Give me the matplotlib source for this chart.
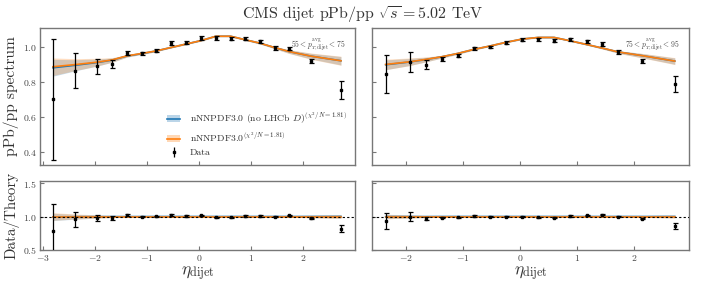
import numpy as np
import matplotlib
matplotlib.use("Agg")
import matplotlib.pyplot as plt
from matplotlib.patches import Patch
from matplotlib.lines import Line2D

plt.rcParams['font.family'] = 'serif'
plt.rcParams['font.serif'] = ['cmr10', 'DejaVu Serif']
plt.rcParams['mathtext.fontset'] = 'cm'
plt.rcParams['axes.formatter.use_mathtext'] = True
plt.rcParams['axes.unicode_minus'] = True

# ---------------- data: left panel (55 < pT < 75) ----------------
eta_L = [-2.80, -2.38, -1.95, -1.66, -1.38, -1.09, -0.82, -0.53, -0.25, 0.04,
         0.33, 0.61, 0.89, 1.18, 1.46, 1.74, 2.16, 2.73]
data_L = [0.700, 0.863, 0.888, 0.902, 0.966, 0.962, 0.977, 1.021, 1.024, 1.051,
          1.049, 1.047, 1.046, 1.030, 0.994, 0.989, 0.918, 0.752]
err_L = [0.345, 0.100, 0.044, 0.024, 0.012, 0.010, 0.009, 0.012, 0.011, 0.010,
         0.010, 0.010, 0.010, 0.011, 0.010, 0.010, 0.012, 0.050]
theo_L = [0.886, 0.898, 0.912, 0.925, 0.948, 0.962, 0.976, 0.996, 1.015, 1.035,
          1.060, 1.060, 1.040, 1.020, 0.995, 0.972, 0.946, 0.920]
band_L = [0.050, 0.034, 0.022, 0.013, 0.007, 0.005, 0.004, 0.003, 0.003, 0.003,
          0.003, 0.003, 0.004, 0.005, 0.007, 0.011, 0.018, 0.026]
theo_L_nolhcb = [0.880, 0.894, 0.910, 0.924, 0.947, 0.961, 0.976, 0.996, 1.015, 1.035,
                 1.060, 1.060, 1.040, 1.020, 0.995, 0.972, 0.946, 0.920]
band_L_nolhcb = [0.048, 0.032, 0.020, 0.012, 0.006, 0.005, 0.004, 0.003, 0.003, 0.003,
                 0.003, 0.003, 0.004, 0.005, 0.006, 0.010, 0.016, 0.024]

# ---------------- data: right panel (75 < pT < 95) ----------------
eta_R = [-2.36, -1.94, -1.65, -1.37, -1.09, -0.81, -0.53, -0.25, 0.04, 0.32,
         0.60, 0.88, 1.17, 1.45, 1.73, 2.15, 2.72]
data_R = [0.844, 0.912, 0.898, 0.928, 0.949, 0.992, 0.998, 1.023, 1.040, 1.042,
          1.034, 1.042, 1.030, 1.017, 0.970, 0.920, 0.786]
err_R = [0.108, 0.057, 0.024, 0.012, 0.009, 0.008, 0.007, 0.008, 0.008, 0.008,
         0.009, 0.008, 0.010, 0.010, 0.010, 0.012, 0.046]
theo_R = [0.899, 0.914, 0.928, 0.943, 0.962, 0.985, 1.004, 1.025, 1.044, 1.053,
          1.053, 1.034, 1.013, 0.992, 0.970, 0.949, 0.918]
band_R = [0.030, 0.022, 0.014, 0.008, 0.005, 0.004, 0.003, 0.003, 0.003, 0.003,
          0.003, 0.003, 0.004, 0.005, 0.008, 0.013, 0.020]
theo_R_nolhcb = [0.897, 0.913, 0.927, 0.943, 0.962, 0.985, 1.004, 1.025, 1.044, 1.053,
                 1.053, 1.034, 1.013, 0.992, 0.970, 0.949, 0.918]
band_R_nolhcb = [0.028, 0.020, 0.013, 0.007, 0.005, 0.004, 0.003, 0.003, 0.003, 0.003,
                 0.003, 0.003, 0.004, 0.005, 0.007, 0.012, 0.018]

pt_labels = [r"$55 < p_{T,\mathrm{dijet}}^{\mathrm{avg}} < 75$",
             r"$75 < p_{T,\mathrm{dijet}}^{\mathrm{avg}} < 95$"]
legend_labels = [r"nNNPDF3.0 (no LHCb $D$)$^{(\chi^2/N=1.81)}$",
                 r"nNNPDF3.0$^{(\chi^2/N=1.81)}$",
                 "Data"]

BLUE = '#1f77b4'
ORANGE = '#ff7f0e'
SPINE = '#777777'
TXT = '#333333'

fig = plt.figure(figsize=(7.06, 2.82), dpi=100)

W = 706.0
H = 282.0
def rect(x0, x1, y0, y1):
    return [x0 / W, 1 - y1 / H, (x1 - x0) / W, (y1 - y0) / H]

axTL = fig.add_axes(rect(40, 355, 28, 165))
axTR = fig.add_axes(rect(372, 689, 28, 165))
axBL = fig.add_axes(rect(40, 355, 181, 250))
axBR = fig.add_axes(rect(372, 689, 181, 250))

panels = [
    (axTL, axBL, eta_L, data_L, err_L, theo_L, band_L, theo_L_nolhcb, band_L_nolhcb, (-3.05, 3.0), pt_labels[0]),
    (axTR, axBR, eta_R, data_R, err_R, theo_R, band_R, theo_R_nolhcb, band_R_nolhcb, (-2.6, 2.97), pt_labels[1]),
]

for i, (axT, axB, eta, dat, err, th, bd, th2, bd2, xl, ptl) in enumerate(panels):
    eta = np.array(eta); dat = np.array(dat); err = np.array(err)
    th = np.array(th); bd = np.array(bd); th2 = np.array(th2); bd2 = np.array(bd2)

    # top panel
    axT.fill_between(eta, th2 - bd2, th2 + bd2, color=BLUE, alpha=0.25, lw=0)
    axT.plot(eta, th2, color=BLUE, lw=1.2)
    axT.fill_between(eta, th - bd, th + bd, color=ORANGE, alpha=0.25, lw=0)
    axT.plot(eta, th, color=ORANGE, lw=1.2)
    axT.errorbar(eta, dat, yerr=err, fmt='s', color='k', ms=1.8, lw=0.9,
                 capsize=1.8, capthick=0.9, zorder=5)
    axT.set_xlim(*xl)
    axT.set_ylim(0.325, 1.107)
    axT.set_yticks([0.4, 0.6, 0.8, 1.0])
    axT.set_xticks([-3, -2, -1, 0, 1, 2] if i == 0 else [-2, -1, 0, 1, 2])
    axT.tick_params(labelbottom=False)
    axT.text(0.97, 0.93, ptl, transform=axT.transAxes, ha='right', va='top',
             fontsize=5.5, color='#444444')

    # ratio panel
    axB.fill_between(eta, 1 - bd2 / th2 - (th - th2) / th, 1 + bd2 / th2 - (th - th2) / th,
                     color=BLUE, alpha=0.25, lw=0)
    axB.fill_between(eta, 1 - bd / th, 1 + bd / th, color=ORANGE, alpha=0.25, lw=0)
    axB.plot(eta, th2 / th, color=BLUE, lw=1.2)
    axB.plot(eta, th / th, color=ORANGE, lw=1.2)
    axB.axhline(1.0, color='k', ls=(0, (2, 2)), lw=0.8, zorder=4)
    axB.errorbar(eta, dat / th, yerr=err / th, fmt='s', color='k', ms=1.8, lw=0.9,
                 capsize=1.8, capthick=0.9, zorder=5)
    axB.set_xlim(*xl)
    axB.set_ylim(0.5, 1.53)
    axB.set_yticks([0.5, 1.0, 1.5])
    axB.set_xticks([-3, -2, -1, 0, 1, 2] if i == 0 else [-2, -1, 0, 1, 2])
    axB.set_xlabel(r"$\eta_{\mathrm{dijet}}$", fontsize=12.5, color=TXT, labelpad=1)

    for ax in (axT, axB):
        for s in ax.spines.values():
            s.set_color(SPINE)
            s.set_linewidth(1.0)
        ax.tick_params(direction='in', length=3, width=0.8, color=SPINE,
                       labelsize=7, labelcolor='#444444', pad=2)
        if i == 1:
            ax.tick_params(labelleft=False)

ylab1 = axTL.set_ylabel("pPb/pp spectrum", fontsize=12, color=TXT)
ylab2 = axBL.set_ylabel("Data/Theory", fontsize=12, color=TXT)
axTL.yaxis.set_label_coords(-0.066, 0.5)
axBL.yaxis.set_label_coords(-0.066, 0.5)

# size the y labels to the length seen in the reference
renderer = fig.canvas.get_renderer()
ext = ylab1.get_window_extent(renderer)
fs = ylab1.get_fontsize() * 120.0 / ext.height
ylab1.set_fontsize(fs)
ylab2.set_fontsize(fs * 0.97)

# legend
h1 = (Patch(facecolor=BLUE, alpha=0.3, lw=0), Line2D([], [], color=BLUE, lw=1.2))
h2 = (Patch(facecolor=ORANGE, alpha=0.3, lw=0), Line2D([], [], color=ORANGE, lw=1.2))
h3 = axTL.errorbar([], [], yerr=[], fmt='s', color='k', ms=1.8, lw=0.9, capsize=1.8)
leg = axTL.legend([h1, h2, h3], legend_labels, loc='lower right',
                  bbox_to_anchor=(1.0, 0.0), frameon=False, fontsize=7,
                  handlelength=1.4, handletextpad=1.0, labelspacing=0.45,
                  borderaxespad=0.4)
for t in leg.get_texts():
    t.set_color(TXT)

fig.text(0.513, 0.948, r"CMS dijet pPb/pp $\sqrt{s} = 5.02$ TeV", ha='center',
         va='center', fontsize=11.5, color=TXT)

fig.savefig("out.png", dpi=100)
